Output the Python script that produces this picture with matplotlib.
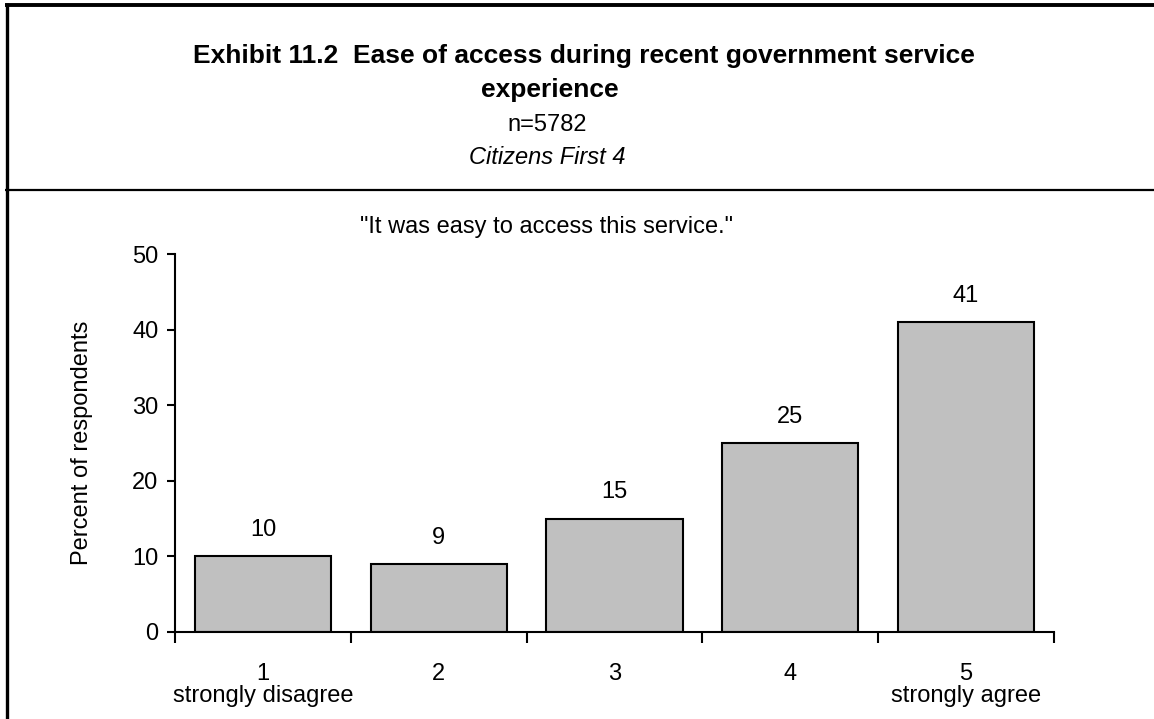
import matplotlib
matplotlib.use("Agg")
import matplotlib.pyplot as plt
from matplotlib.lines import Line2D

plt.rcParams["font.family"] = ["Liberation Sans", "DejaVu Sans"]

# --- datos ---
categorias = ["1\nstrongly disagree", "2", "3", "4", "5\nstrongly agree"]
porcentajes = [10, 9, 15, 25, 41]
etiquetas = ["10", "9", "15", "25", "41"]

titulo_1 = "Exhibit 11.2  Ease of access during recent government service"
titulo_2 = "experience"
muestra = "n=5782"
fuente = "Citizens First 4"
pregunta = "\"It was easy to access this service.\""

W, H = 1154, 719
fig = plt.figure(figsize=(W / 100, H / 100), dpi=100)

# marco exterior y línea separadora del encabezado
fig.add_artist(Line2D([6.5 / W, 6.5 / W], [0, 1 - 3 / H], color="black", lw=2.4,
                      transform=fig.transFigure, solid_capstyle="butt"))
fig.add_artist(Line2D([5 / W, 1], [1 - 5 / H, 1 - 5 / H], color="black", lw=2.8,
                      transform=fig.transFigure, solid_capstyle="butt"))
fig.add_artist(Line2D([5 / W, 1], [1 - 190 / H, 1 - 190 / H], color="black", lw=1.6,
                      transform=fig.transFigure, solid_capstyle="butt"))

# encabezado
fig.text(584 / W, 1 - 56 / H, titulo_1, ha="center", va="center", fontsize=19,
         fontweight="bold")
fig.text(550 / W, 1 - 90 / H, titulo_2, ha="center", va="center", fontsize=19,
         fontweight="bold")
fig.text(547 / W, 1 - 125 / H, muestra, ha="center", va="center", fontsize=17)
fig.text(547 / W, 1 - 158 / H, fuente, ha="center", va="center", fontsize=17,
         style="italic")
fig.text(547 / W, 1 - 227 / H, pregunta, ha="center", va="center", fontsize=17)

# gráfico de barras
ax = fig.add_axes([175 / W, 1 - 632 / H, (1054 - 175) / W, (632 - 254) / H])
x = list(range(len(porcentajes)))
ax.bar(x, porcentajes, width=0.775, color="#c0c0c0",
       edgecolor="black", linewidth=1.5)

for xi, v, t in zip(x, porcentajes, etiquetas):
    ax.annotate(t, (xi, v), xytext=(0, 19), textcoords="offset points",
                ha="center", va="center", fontsize=17)

ax.set_xlim(-0.5, len(porcentajes) - 0.5)
ax.set_ylim(0, 50)
ax.set_yticks([0, 10, 20, 30, 40, 50])
ax.tick_params(axis="y", labelsize=17, length=6, width=1.5, direction="out", pad=6)

ax.set_xticks(x)
ax.set_xticklabels(categorias, fontsize=17, linespacing=1.05)
ax.set_xticks([i - 0.5 for i in range(len(porcentajes) + 1)], minor=True)
ax.tick_params(axis="x", which="major", length=0, pad=22)
ax.tick_params(axis="x", which="minor", length=8, width=1.5, direction="out")

for lado in ["top", "right"]:
    ax.spines[lado].set_visible(False)
for lado in ["left", "bottom"]:
    ax.spines[lado].set_linewidth(1.5)

ax.set_ylabel("Percent of respondents", fontsize=17, labelpad=28)

fig.savefig("out.png", dpi=100)
